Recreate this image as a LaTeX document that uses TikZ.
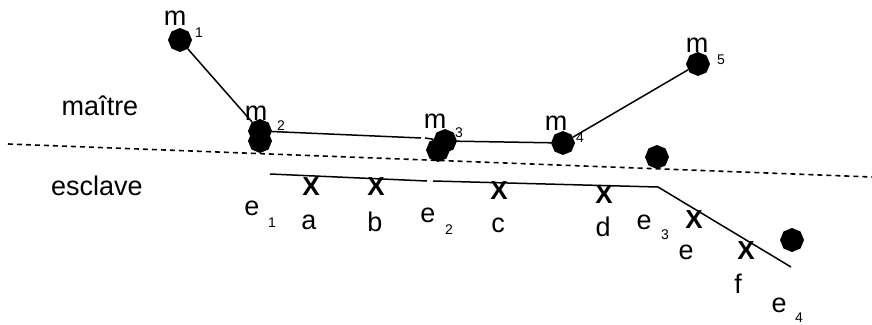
\documentclass[tikz,border=0pt]{standalone}
\usepackage{fontspec}
\setmainfont{Liberation Sans}
\usepackage{tikz}
\usetikzlibrary{shapes.geometric}

\begin{document}
\begin{tikzpicture}[
x=1pt, y=-1pt,
dot/.style={regular polygon, regular polygon sides=8, shape border rotate=22.5, fill=black, inner sep=0pt, minimum size=24pt},
lab/.style={anchor=base, inner sep=0pt, font=\fontsize{27}{27}\selectfont},
sub/.style={anchor=base, inner sep=0pt, font=\fontsize{14}{14}\selectfont},
cross/.style={anchor=base, inner sep=0pt, font=\fontsize{26}{26}\selectfont\bfseries},
link/.style={line width=1.5pt, black},
border/.style={line width=1.6pt, dash pattern=on 5pt off 4pt}
]
\useasboundingbox (0,0) rectangle (872,324);
% frontiere maitre / esclave
\coordinate (left) at (8,144);
\coordinate (right) at (872,177);
\draw[border] (left) -- (right);
\node[lab] (maitre) at (100,115) {maître};
\node[lab] (esclave) at (97,195) {esclave};
% noeuds maitres
\node[dot] (m1) at (180,40) {};
\node[dot] (m2b) at (260,141) {};
\node[dot] (m2) at (260,131) {};
\node[dot] (m3b) at (438,150) {};
\node[dot] (m3) at (445,141) {};
\node[dot] (m4) at (563,143) {};
\node[dot] (m5) at (698,64) {};
\node[dot] (p1) at (657,157) {};
\node[dot] (p2) at (792,240) {};
\node[lab] (lm1) at (175,25) {m};
\node[sub] (i1) at (199,37) {1};
\node[lab] (lm2) at (256,120) {m};
\node[sub] (i2) at (281,130) {2};
\node[lab] (lm3) at (435,128) {m};
\node[sub] (i3) at (459,137) {3};
\node[lab] (lm4) at (556,130) {m};
\node[sub] (i4) at (580,142) {4};
\node[lab] (lm5) at (697,52) {m};
\node[sub] (i5) at (721,64) {5};
\coordinate (g1) at (421,138);
\coordinate (g2) at (425,138);
\draw[link] (m1) -- (m2);
\draw[link] (m2) -- (g1);
\draw[link] (g2) -- (m3);
\draw[link] (m3) -- (m4);
\draw[link] (m4) -- (m5);
% frontiere esclave
\coordinate (s1) at (270,174);
\coordinate (s2) at (427,181);
\coordinate (s3) at (433,181);
\coordinate (s4) at (658,187);
\coordinate (s5) at (791,267);
\draw[link] (s1) -- (s2);
\draw[link] (s3) -- (s4) -- (s5);
% points d'integration
\node[cross] (xa) at (311,195) {X};
\node[cross] (xb) at (376,195) {X};
\node[cross] (xc) at (499,199) {X};
\node[cross] (xd) at (604,203) {X};
\node[cross] (xe) at (694,228) {X};
\node[cross] (xf) at (746,259) {X};
\node[lab] (la) at (309,229) {a};
\node[lab] (lb) at (375,231) {b};
\node[lab] (lc) at (498,232) {c};
\node[lab] (ld) at (603,236) {d};
\node[lab] (le) at (686,259) {e};
\node[lab] (lf) at (738,293) {f};
% noeuds esclaves
\node[lab] (e1) at (252,215) {e};
\node[sub] (j1) at (272,227) {1};
\node[lab] (e2) at (428,222) {e};
\node[sub] (j2) at (449,234) {2};
\node[lab] (e3) at (644,229) {e};
\node[sub] (j3) at (665,239) {3};
\node[lab] (e4) at (779,312) {e};
\node[sub] (j4) at (799,322) {4};
\end{tikzpicture}
\end{document}
